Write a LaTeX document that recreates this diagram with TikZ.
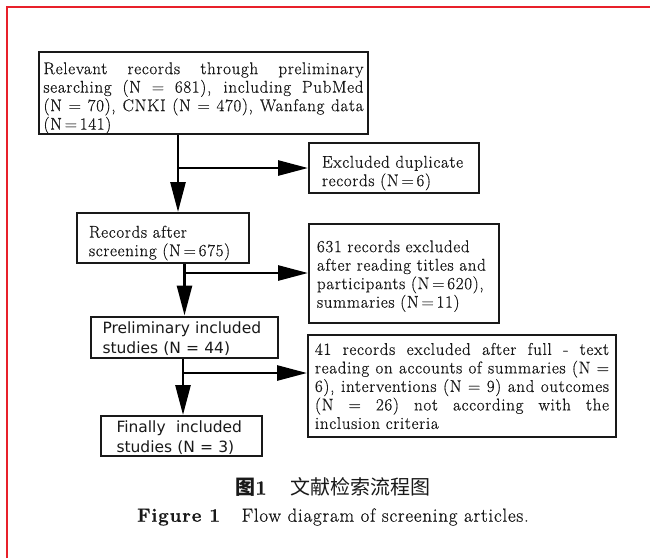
\documentclass[tikz,border=0pt]{standalone}
\usepackage{fontspec}
\setmainfont{Latin Modern Roman}[LetterSpace=4, FakeBold=0.6]
\newfontfamily\cjkfont{Noto Sans CJK SC}
\newfontfamily\dlgfont{DejaVu Sans}
\usetikzlibrary{arrows.meta}
\definecolor{framered}{RGB}{232,32,42}
\definecolor{ink}{RGB}{25,25,25}
\newcommand{\fillline}[2]{{\spaceskip=0.3333em plus 1fil\makebox[#1][s]{#2}}}
\tikzset{
  flowbox/.style={draw=ink, line width=2pt, inner sep=0pt, align=left, text=ink,
    font=\fontsize{17}{18.5}\selectfont},
  dlgbox/.style={flowbox, font=\dlgfont\fontsize{15.5}{20}\selectfont},
  topgap/.style={execute at begin node={\rule{0pt}{#1}}},
  arr/.style={line width=2.7pt, -{Triangle[length=30pt,width=15pt]}},
}
\begin{document}
\begin{tikzpicture}[x=1pt,y=-1pt]
  \useasboundingbox (0,0) rectangle (650,558);
  \draw[framered, line width=1.5pt] (7,558) -- (7,7) -- (650,7);
  % left column
  \node[flowbox, topgap=22pt, minimum width=329pt, minimum height=82pt, text width=320pt] (rec) at (203.5,93)
    {\fillline{320pt}{Relevant records through preliminary}\\
     \fillline{320pt}{searching (N = 681), including PubMed}\\
     \fillline{320pt}{(N = 70), CNKI (N = 470), Wanfang data}\\
     (N\,=\,141)};
  \node[flowbox, topgap=22pt, minimum width=172pt, minimum height=50pt, text width=148pt] (scr) at (163,238)
    {Records after\\ screening (N\,=\,675)};
  \node[dlgbox, topgap=16pt, minimum width=187pt, minimum height=41pt, text width=164pt] (pre) at (184.5,337)
    {Preliminary included\\ studies (N = 44)};
  \node[dlgbox, topgap=16pt, minimum width=161pt, minimum height=40pt, text width=130pt] (fin) at (181.5,436)
    {Finally\ \ included\\ studies (N = 3)};
  % right column
  \node[flowbox, topgap=22pt, minimum width=170pt, minimum height=50pt, text width=144pt] (dup) at (394,168)
    {Excluded duplicate\\ records (N\,=\,6)};
  \node[flowbox, topgap=18pt, minimum width=190pt, minimum height=99pt, text width=174pt] (ttl) at (404,273)
    {631 records excluded\\ after reading titles and\\ participants (N\,=\,620),\\ summaries (N\,=\,11)};
  \node[flowbox, minimum width=308pt, minimum height=102pt, text width=294pt] (ful) at (462,386)
    {\fillline{294pt}{41 records excluded after full - text}\\
     \fillline{294pt}{reading on accounts of summaries (N =}\\
     \fillline{294pt}{6), interventions (N = 9) and outcomes}\\
     \fillline{294pt}{(N = 26) not according with the}\\
     inclusion criteria};
  % connectors
  \coordinate (c1) at (178,168);
  \draw[arr] (rec.south -| c1) -- (scr.north -| c1);
  \draw[arr] (c1) -- (dup.west);
  \draw[arr] (scr.south -| pre.north) -- (pre.north);
  \draw[arr] (ttl.west -| pre.north) -- (ttl.west);
  \coordinate (c3) at (183,373);
  \draw[arr] (pre.south -| c3) -- (fin.north -| c3);
  \draw[arr] (c3) -- (c3 -| ful.west);
  % caption
  \node[font=\cjkfont\fontsize{20}{24}\selectfont, text=ink] (cn) at (333,487)
    {{\bfseries 图}{\rmfamily\bfseries 1}\hspace{1.2em}文献检索流程图};
  \node[font=\fontsize{19}{23}\selectfont, text=ink] (en) at (333,517)
    {\textbf{Figure 1}\hspace{1.1em}Flow diagram of screening articles.};
\end{tikzpicture}
\end{document}
